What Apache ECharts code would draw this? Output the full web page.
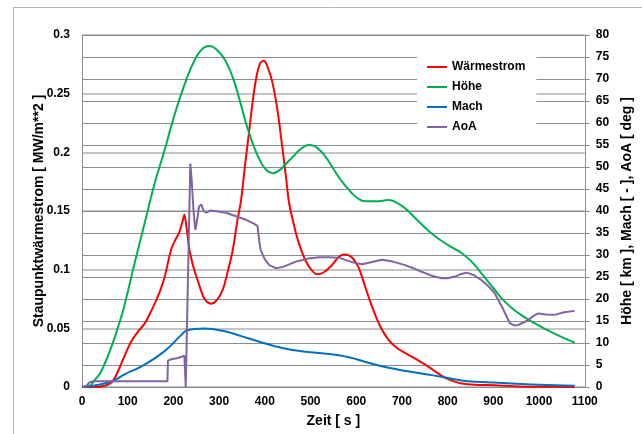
<!DOCTYPE html>
<html>
<head>
<meta charset="utf-8">
<script src="https://cdn.jsdelivr.net/npm/echarts@6/dist/echarts.min.js"></script>
<style>
html,body{margin:0;padding:0;background:#fff;}
#chart{width:642px;height:434px;}
</style>
</head>
<body>
<div id="chart"></div>
<script>
// ---- Data ----
const seriesNames = ['Wärmestrom', 'Höhe', 'Mach', 'AoA'];
const xTicks = [0, 100, 200, 300, 400, 500, 600, 700, 800, 900, 1000, 1100];
const leftTicks = [0, 0.05, 0.1, 0.15, 0.2, 0.25, 0.3];
const rightTicks = [0, 5, 10, 15, 20, 25, 30, 35, 40, 45, 50, 55, 60, 65, 70, 75, 80];

// Wärmestrom [MW/m**2] (left axis)
const tWaerme = [0, 30, 50, 65, 76, 86, 97, 108, 122, 137, 148, 159, 170, 181, 195, 205, 213, 220, 224, 229, 235, 244, 253, 268, 282, 295, 308, 320, 330, 340, 348, 357, 366, 374, 382, 390, 397, 405, 417, 428, 438, 446, 453, 465, 475, 490, 504, 515, 530, 547, 562, 573, 585, 596, 606, 620, 635, 652, 671, 690, 707, 730, 751, 770, 794, 812, 831, 860, 903, 940, 976, 1078];
const vWaerme = [0, 0, 0.001, 0.004, 0.011, 0.020, 0.030, 0.039, 0.047, 0.054, 0.062, 0.071, 0.081, 0.094, 0.117, 0.126, 0.132, 0.141, 0.147, 0.135, 0.117, 0.102, 0.091, 0.075, 0.071, 0.074, 0.083, 0.100, 0.117, 0.142, 0.159, 0.190, 0.219, 0.245, 0.265, 0.276, 0.278, 0.274, 0.259, 0.235, 0.205, 0.180, 0.157, 0.136, 0.122, 0.107, 0.099, 0.096, 0.098, 0.104, 0.111, 0.113, 0.112, 0.108, 0.101, 0.085, 0.068, 0.052, 0.040, 0.033, 0.029, 0.024, 0.019, 0.014, 0.008, 0.005, 0.003, 0.002, 0.0015, 0.0008, 0.0003, 0];

// Höhe [km] (right axis)
const tHoehe = [10, 20, 28, 40, 50, 61, 72, 83, 94, 115, 137, 159, 181, 200, 228, 250, 265, 279, 295, 312, 330, 345, 359, 374, 388, 402, 417, 432, 447, 463, 480, 497, 515, 533, 550, 566, 584, 602, 620, 645, 671, 690, 707, 735, 765, 800, 831, 855, 874, 900, 925, 955, 990, 1030, 1078];
const vHoehe = [0, 0.5, 1.6, 3.2, 5.4, 8.2, 11.4, 15, 19, 28.1, 37.2, 46.3, 53.9, 61, 69.8, 75, 77, 77.5, 76.6, 74.5, 70.3, 65.2, 59.9, 55.2, 51.8, 49.5, 48.6, 49.3, 50.8, 52.5, 54.2, 55, 54.3, 52.3, 49.6, 47.1, 44.8, 43.0, 42.2, 42.2, 42.5, 41.8, 40.6, 37.8, 34.9, 32.3, 30.4, 28.2, 25.8, 22.5, 19.4, 16.8, 14.5, 12.3, 10.1];

// Mach [-] (right axis)
const tMach = [0, 20, 54, 72, 95, 115, 137, 159, 175, 188, 200, 210, 220, 226, 235, 246, 268, 285, 315, 350, 388, 420, 460, 500, 540, 584, 620, 656, 690, 729, 765, 802, 830, 860, 900, 940, 1000, 1078];
const vMach = [0, 0.2, 0.9, 1.6, 3.0, 3.9, 5.1, 6.5, 7.7, 8.8, 10.0, 11.1, 12.1, 12.7, 13.0, 13.2, 13.3, 13.2, 12.6, 11.5, 10.3, 9.3, 8.4, 7.9, 7.5, 6.75, 5.7, 4.7, 4.0, 3.3, 2.7, 2.0, 1.5, 1.2, 1.0, 0.8, 0.5, 0.3];

// AoA [deg] (right axis)
const tAoA = [0, 10, 17, 25, 60, 187, 188, 195, 210, 224, 226, 227, 228, 237, 240, 244, 248, 252, 256, 261, 266, 272, 280, 290, 315, 340, 359, 375, 384, 388, 391, 400, 410, 424, 440, 468, 495, 519, 540, 562, 584, 600, 613, 630, 656, 680, 707, 725, 743, 765, 787, 800, 816, 830, 842, 858, 874, 890, 903, 920, 936, 945, 954, 965, 976, 990, 998, 1015, 1034, 1055, 1078];
const vAoA = [0, 0.3, 1.1, 1.3, 1.3, 1.3, 6.0, 6.3, 6.6, 7.1, 7.2, 0, 0, 50.8, 47, 40, 35.7, 38, 41, 41.5, 40, 39.6, 40.1, 40.0, 39.6, 38.7, 38, 37.2, 36.6, 33, 31.1, 29, 27.7, 27.0, 27.3, 28.5, 29.2, 29.5, 29.5, 29.4, 28.6, 28.1, 27.9, 28.3, 28.9, 28.5, 27.7, 27.0, 26.2, 25.3, 24.7, 24.7, 25.1, 25.7, 26.0, 25.4, 24.3, 22.8, 21.3, 18, 14.5, 14.0, 14.1, 14.6, 15.2, 16.3, 16.7, 16.5, 16.4, 17.0, 17.3];

const colors = ['#ff0000', '#00b050', '#0070c0', '#8064a2'];

function pairs(t, v) { return t.map((x, i) => [x, v[i]]); }

const font = 'Liberation Sans, Arial, sans-serif';
const chart = echarts.init(document.getElementById('chart'), null, { renderer: 'canvas' });

chart.setOption({
  animation: false,
  backgroundColor: '#fff',
  graphic: [{
    type: 'rect', z: -10, silent: true,
    shape: { x: 13.5, y: 7.5, width: 700, height: 500 },
    style: { fill: 'none', stroke: '#b4b4b4', lineWidth: 1 }
  }],
  grid: { left: 82, right: 55, top: 35, bottom: 47 },
  legend: {
    data: seriesNames,
    orient: 'vertical',
    left: 417, top: 52,
    width: 118,
    backgroundColor: '#fff',
    padding: [8, 11, 8, 10],
    itemGap: 6,
    icon: 'rect',
    itemWidth: 20, itemHeight: 2,
    textStyle: { fontFamily: font, fontWeight: 'bold', fontSize: 12, color: '#000', lineHeight: 14 }
  },
  xAxis: {
    type: 'value', min: xTicks[0], max: xTicks[xTicks.length - 1], interval: 100,
    name: 'Zeit [ s ]', nameLocation: 'middle', nameGap: 27,
    nameTextStyle: { fontFamily: font, fontWeight: 'bold', fontSize: 14, color: '#000' },
    axisLine: { lineStyle: { color: '#8c8c8c', width: 1 } },
    axisTick: { show: false },
    axisLabel: { margin: 9, fontFamily: font, fontWeight: 'bold', fontSize: 12, color: '#000', formatter: v => String(v) },
    splitLine: { show: false }
  },
  yAxis: [{
    type: 'value', position: 'left', min: leftTicks[0], max: leftTicks[leftTicks.length - 1], interval: 0.05,
    name: 'Staupunktwärmestrom [ MW/m**2 ]', nameLocation: 'middle', nameGap: 36, nameRotate: 90,
    nameMoveOverlap: false,
    nameTextStyle: { fontFamily: font, fontWeight: 'bold', fontSize: 14, color: '#000' },
    axisLine: { show: true, lineStyle: { color: '#8c8c8c', width: 1 } },
    axisTick: { show: false },
    axisLabel: { margin: 12, fontFamily: font, fontWeight: 'bold', fontSize: 12, color: '#000', formatter: v => String(+v.toFixed(2)) },
    splitLine: { show: true, lineStyle: { color: '#c4c4c4', width: 2 } }
  }, {
    type: 'value', position: 'right', min: rightTicks[0], max: rightTicks[rightTicks.length - 1], interval: 5,
    name: 'Höhe [ km ], Mach [ - ], AoA [ deg ]', nameLocation: 'middle', nameGap: 32, nameRotate: 90,
    nameTextStyle: { fontFamily: font, fontWeight: 'bold', fontSize: 14, color: '#000' },
    axisLine: { show: true, lineStyle: { color: '#8c8c8c', width: 1 } },
    axisTick: { show: true, inside: false, length: 5, lineStyle: { color: '#8c8c8c' } },
    axisLabel: { margin: 11, fontFamily: font, fontWeight: 'bold', fontSize: 12, color: '#000' },
    splitLine: { show: true, lineStyle: { color: '#8c8c8c', width: 1 } }
  }],
  series: [
    { name: seriesNames[0], type: 'line', yAxisIndex: 0, data: pairs(tWaerme, vWaerme), smooth: 0.3, symbol: 'none', lineStyle: { color: colors[0], width: 2 }, itemStyle: { color: colors[0] } },
    { name: seriesNames[1], type: 'line', yAxisIndex: 1, data: pairs(tHoehe, vHoehe), smooth: 0.5, symbol: 'none', lineStyle: { color: colors[1], width: 2 }, itemStyle: { color: colors[1] } },
    { name: seriesNames[2], type: 'line', yAxisIndex: 1, data: pairs(tMach, vMach), smooth: 0.4, symbol: 'none', lineStyle: { color: colors[2], width: 2 }, itemStyle: { color: colors[2] } },
    { name: seriesNames[3], type: 'line', yAxisIndex: 1, data: pairs(tAoA, vAoA), smooth: false, symbol: 'none', lineStyle: { color: colors[3], width: 2 }, itemStyle: { color: colors[3] } }
  ]
});
</script>
</body>
</html>
